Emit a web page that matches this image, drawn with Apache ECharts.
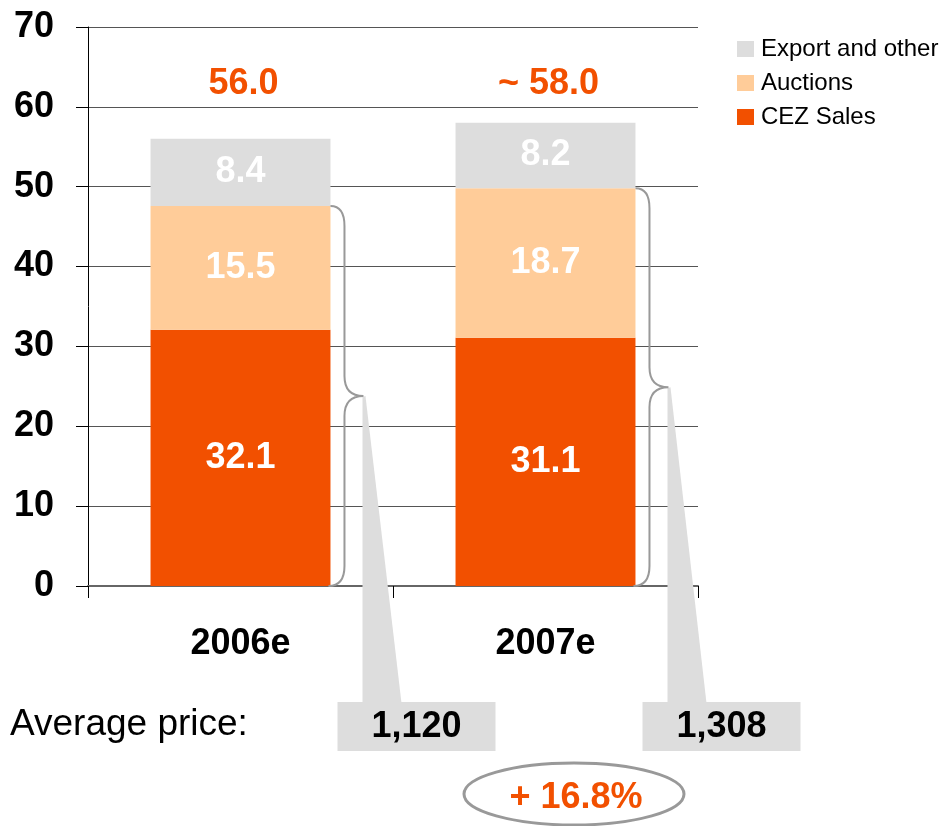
<!DOCTYPE html>
<html>
<head>
<meta charset="utf-8">
<title>CEZ electricity sales</title>
<script src="https://cdn.jsdelivr.net/npm/echarts@6/dist/echarts.min.js"></script>
<style>
  html, body { margin: 0; padding: 0; background: #fff; }
  #chart { width: 944px; height: 826px; }
</style>
</head>
<body>
<div id="chart"></div>
<script>
// Volumes (TWh) by sales channel
const categories = ['2006e', '2007e'];
const cezSales = [32.1, 31.1];
const auctions = [15.5, 18.7];
const exportOther = [8.4, 8.2];
// prefix shown in front of each year's total
const totalPrefix = ['', '~ '];
// Average price (CZK/MWh) of CEZ Sales + Auctions
const avgPrice = [1120, 1308];
// Value axis
const yMin = 0, yMax = 70, yStep = 10;

const FONT = '"Liberation Sans", Arial, Helvetica, sans-serif';
const ORANGE = '#F25000';
const PEACH = '#FFCC99';
const GREY = '#DDDDDD';

const totals = categories.map((_, i) => +(cezSales[i] + auctions[i] + exportOther[i]).toFixed(1));
const domestic = categories.map((_, i) => +(cezSales[i] + auctions[i]).toFixed(1));
const fmtPrice = v => v.toLocaleString('en-US');
const growth = (avgPrice[1] / avgPrice[0] - 1) * 100;

const BAR_RATIO = 0.59;

const segLabel = {
  show: true,
  position: 'inside',
  color: '#fff',
  fontFamily: FONT,
  fontWeight: 'bold',
  fontSize: 36,
  formatter: p => p.value.toFixed(1)
};

// Brace, call-out wedge, price box and total label for each year
function renderAnnot(params, api) {
  const i = api.value(0);
  const catW = api.size([1, 0])[0];
  const base = api.coord([i, 0]);
  const cx = base[0], y0 = base[1];
  const yTop = api.coord([i, api.value(1)])[1];
  const yPlotTop = api.coord([i, yMax])[1];
  const x0 = cx + catW * BAR_RATIO / 2;
  const x1 = x0 + 14, x2 = x0 + 33;
  const yMid = (y0 + yTop) / 2;
  const r = 20;
  const brace = 'M' + x0 + ' ' + yTop +
    ' Q' + x1 + ' ' + yTop + ' ' + x1 + ' ' + (yTop + r) +
    ' L' + x1 + ' ' + (yMid - r) +
    ' Q' + x1 + ' ' + yMid + ' ' + x2 + ' ' + yMid +
    ' Q' + x1 + ' ' + yMid + ' ' + x1 + ' ' + (yMid + r) +
    ' L' + x1 + ' ' + (y0 - r) +
    ' Q' + x1 + ' ' + y0 + ' ' + (x0 - 2) + ' ' + y0;

  const boxTop = y0 + 116, boxH = 49, boxW = 158;
  const boxCx = cx + 176;

  return {
    type: 'group',
    children: [
      {
        type: 'polygon',
        shape: { points: [[x2 - 1, yMid + 1], [x2 + 2, yMid], [x2 + 38, boxTop + 1], [x2 - 1, boxTop + 1]] },
        style: { fill: GREY }
      },
      {
        type: 'path',
        shape: { pathData: brace },
        style: { fill: 'none', stroke: '#999', lineWidth: 2 }
      },
      {
        type: 'rect',
        shape: { x: boxCx - boxW / 2, y: boxTop, width: boxW, height: boxH },
        style: { fill: GREY }
      },
      {
        type: 'text',
        style: {
          x: boxCx, y: boxTop + boxH / 2 + 1,
          text: fmtPrice(api.value(3)),
          align: 'center', verticalAlign: 'middle',
          font: 'bold 36px ' + FONT, fill: '#000'
        }
      },
      {
        type: 'text',
        style: {
          x: cx + 3, y: yPlotTop + 57,
          text: totalPrefix[i] + api.value(2).toFixed(1),
          align: 'center', verticalAlign: 'middle',
          font: 'bold 36px ' + FONT, fill: ORANGE
        }
      }
    ]
  };
}

const chart = echarts.init(document.getElementById('chart'), null, { renderer: 'canvas' });

chart.setOption({
  animation: false,
  backgroundColor: '#fff',
  textStyle: { fontFamily: FONT },
  grid: { left: 88, right: 246, top: 27, bottom: 240, containLabel: false },
  legend: {
    orient: 'vertical',
    left: 732,
    top: 32,
    icon: 'rect',
    itemWidth: 17,
    itemHeight: 16,
    itemGap: 10,
    selectedMode: false,
    textStyle: { fontFamily: FONT, fontSize: 24, color: '#000', padding: [0, 0, 0, 2] },
    data: ['Export and other', 'Auctions', 'CEZ Sales']
  },
  xAxis: {
    type: 'category',
    data: categories,
    boundaryGap: true,
    axisLine: { show: true, lineStyle: { color: '#666', width: 2 } },
    axisTick: { show: true, length: 12, lineStyle: { color: '#000', width: 1 } },
    axisLabel: {
      margin: 40,
      color: '#000',
      fontFamily: FONT,
      fontWeight: 'bold',
      fontSize: 36
    },
    splitLine: { show: false }
  },
  yAxis: {
    type: 'value',
    min: yMin,
    max: yMax,
    interval: yStep,
    axisLine: { show: true, lineStyle: { color: '#000', width: 1 } },
    axisTick: { show: true, length: 12, lineStyle: { color: '#000', width: 1 } },
    axisLabel: {
      margin: 34,
      color: '#000',
      fontFamily: FONT,
      fontWeight: 'bold',
      fontSize: 36
    },
    splitLine: { show: true, lineStyle: { color: '#555', width: 1 } }
  },
  graphic: [
    {
      type: 'text',
      left: 10,
      top: 706,
      style: { text: 'Average price:', font: '37px ' + FONT, fill: '#000' }
    },
    {
      type: 'ellipse',
      shape: { cx: 574, cy: 794, rx: 110, ry: 31 },
      style: { fill: 'none', stroke: '#999', lineWidth: 3 }
    },
    {
      type: 'text',
      x: 576,
      y: 798,
      style: {
        text: '+ ' + growth.toFixed(1) + '%',
        font: 'bold 36px ' + FONT,
        fill: ORANGE,
        align: 'center',
        verticalAlign: 'middle'
      }
    }
  ],
  series: [
    {
      name: 'CEZ Sales', type: 'bar', stack: 'vol', barWidth: (BAR_RATIO * 100) + '%',
      itemStyle: { color: ORANGE }, label: segLabel, data: cezSales
    },
    {
      name: 'Auctions', type: 'bar', stack: 'vol', barWidth: (BAR_RATIO * 100) + '%',
      itemStyle: { color: PEACH }, label: segLabel, data: auctions
    },
    {
      name: 'Export and other', type: 'bar', stack: 'vol', barWidth: (BAR_RATIO * 100) + '%',
      itemStyle: { color: GREY }, label: segLabel, data: exportOther
    },
    {
      name: 'annotations', type: 'custom', clip: false, silent: true,
      renderItem: renderAnnot,
      encode: { x: 0, y: 1 },
      data: categories.map((_, i) => [i, domestic[i], totals[i], avgPrice[i]]),
      z: 5
    }
  ]
});
</script>
</body>
</html>
